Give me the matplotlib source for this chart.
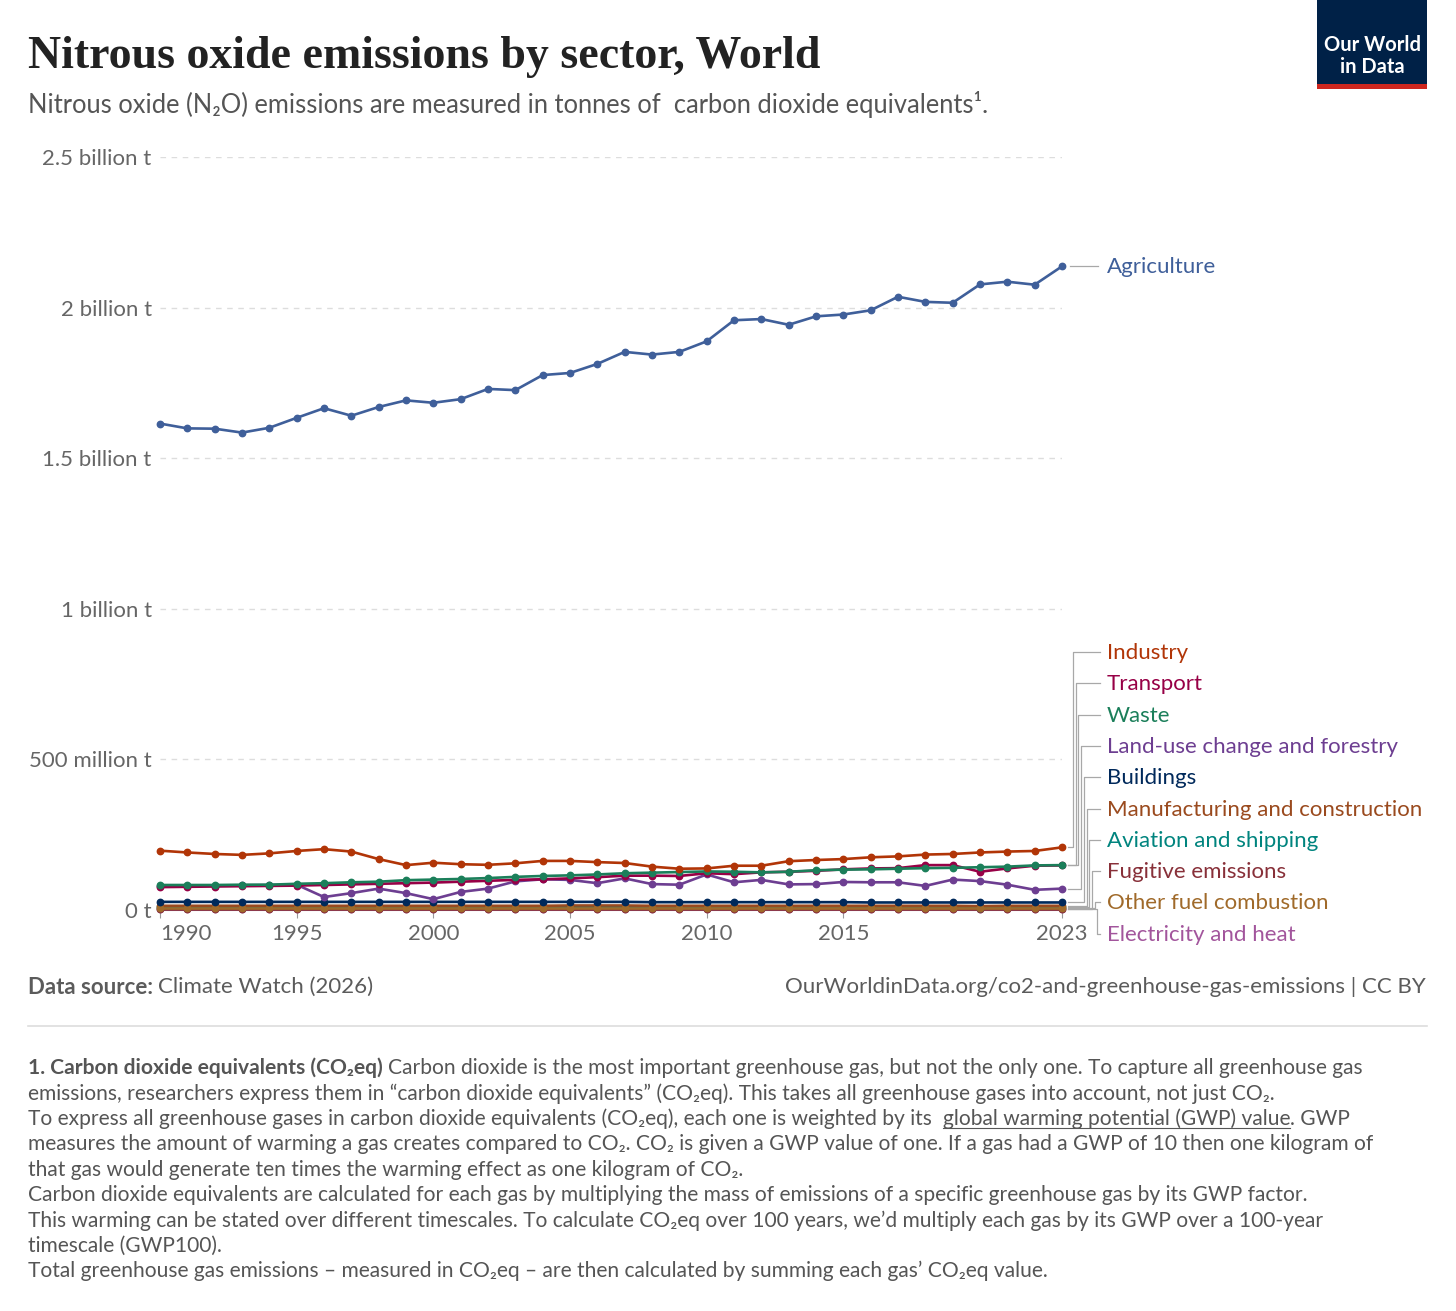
import matplotlib
matplotlib.use('Agg')
import matplotlib.pyplot as plt
from matplotlib.lines import Line2D
from matplotlib.patches import Rectangle

# ---------------- data (billion tonnes CO2eq) ----------------
years = list(range(1990, 2024))

agriculture = [1.615, 1.599, 1.598, 1.585, 1.601, 1.634, 1.666, 1.641, 1.670, 1.692,
               1.684, 1.696, 1.730, 1.726, 1.776, 1.783, 1.813, 1.853, 1.844, 1.853,
               1.888, 1.958, 1.962, 1.943, 1.971, 1.977, 1.991, 2.036, 2.019, 2.016,
               2.077, 2.086, 2.076, 2.137]
industry = [0.197, 0.191, 0.186, 0.183, 0.188, 0.196, 0.202, 0.194, 0.169, 0.149,
            0.157, 0.152, 0.150, 0.155, 0.163, 0.163, 0.159, 0.156, 0.144, 0.137,
            0.138, 0.147, 0.147, 0.162, 0.166, 0.169, 0.175, 0.178, 0.184, 0.186,
            0.191, 0.194, 0.196, 0.208]
transport = [0.076, 0.077, 0.078, 0.079, 0.080, 0.081, 0.083, 0.085, 0.087, 0.089,
             0.091, 0.094, 0.097, 0.100, 0.102, 0.105, 0.109, 0.114, 0.114, 0.113,
             0.122, 0.119, 0.125, 0.127, 0.130, 0.135, 0.138, 0.139, 0.149, 0.149,
             0.127, 0.138, 0.147, 0.148]
waste = [0.083, 0.083, 0.083, 0.084, 0.084, 0.087, 0.089, 0.092, 0.094, 0.099,
         0.101, 0.103, 0.106, 0.110, 0.113, 0.115, 0.118, 0.122, 0.124, 0.126,
         0.128, 0.127, 0.125, 0.127, 0.132, 0.134, 0.135, 0.137, 0.139, 0.140,
         0.142, 0.144, 0.148, 0.149]
land_use = [0.080, 0.080, 0.081, 0.082, 0.083, 0.084, 0.043, 0.056, 0.071, 0.056,
            0.036, 0.060, 0.071, 0.095, 0.102, 0.100, 0.089, 0.105, 0.086, 0.084,
            0.118, 0.092, 0.100, 0.085, 0.086, 0.093, 0.092, 0.092, 0.080, 0.101,
            0.096, 0.084, 0.067, 0.071]
buildings = [0.027, 0.027, 0.027, 0.027, 0.027, 0.027, 0.027, 0.027, 0.027, 0.027,
             0.027, 0.027, 0.027, 0.027, 0.027, 0.027, 0.027, 0.027, 0.026, 0.026,
             0.026, 0.026, 0.026, 0.026, 0.026, 0.026, 0.025, 0.025, 0.025, 0.025,
             0.025, 0.025, 0.025, 0.025]
manufacturing = [0.014, 0.014, 0.014, 0.014, 0.014, 0.014, 0.014, 0.014, 0.014, 0.014,
                 0.014, 0.014, 0.014, 0.014, 0.014, 0.015, 0.015, 0.015, 0.014, 0.014,
                 0.014, 0.014, 0.014, 0.014, 0.014, 0.014, 0.014, 0.014, 0.014, 0.014,
                 0.013, 0.014, 0.014, 0.014]
aviation = [0.009, 0.009, 0.009, 0.009, 0.009, 0.009, 0.009, 0.009, 0.009, 0.009,
            0.009, 0.009, 0.009, 0.009, 0.009, 0.009, 0.009, 0.009, 0.009, 0.009,
            0.009, 0.009, 0.009, 0.009, 0.009, 0.009, 0.009, 0.009, 0.009, 0.009,
            0.008, 0.009, 0.009, 0.009]
fugitive = [0.002, 0.002, 0.002, 0.002, 0.002, 0.002, 0.002, 0.002, 0.002, 0.002,
            0.002, 0.002, 0.002, 0.002, 0.002, 0.002, 0.002, 0.002, 0.002, 0.002,
            0.002, 0.002, 0.002, 0.002, 0.002, 0.002, 0.002, 0.002, 0.002, 0.002,
            0.002, 0.002, 0.002, 0.002]
other_fuel = [0.005, 0.005, 0.005, 0.005, 0.005, 0.005, 0.005, 0.005, 0.005, 0.005,
              0.005, 0.005, 0.005, 0.005, 0.005, 0.005, 0.005, 0.005, 0.005, 0.005,
              0.005, 0.005, 0.005, 0.005, 0.005, 0.005, 0.005, 0.005, 0.005, 0.005,
              0.005, 0.005, 0.005, 0.005]
electricity = [0.004, 0.004, 0.004, 0.004, 0.004, 0.004, 0.004, 0.004, 0.004, 0.004,
               0.004, 0.004, 0.004, 0.004, 0.004, 0.004, 0.004, 0.004, 0.004, 0.004,
               0.004, 0.004, 0.004, 0.004, 0.004, 0.004, 0.004, 0.004, 0.004, 0.004,
               0.004, 0.004, 0.004, 0.004]

sector_names = ["Agriculture", "Industry", "Transport", "Waste", "Land-use change and forestry",
                "Buildings", "Manufacturing and construction", "Aviation and shipping",
                "Fugitive emissions", "Other fuel combustion", "Electricity and heat"]
sector_values = [agriculture, industry, transport, waste, land_use, buildings,
                 manufacturing, aviation, fugitive, other_fuel, electricity]
sector_colors = ["#3F5F9A", "#B13507", "#970046", "#1B7F5A", "#6D3E91", "#00295B",
                 "#9A4A1E", "#00847E", "#883039", "#A06A2A", "#A2559C"]
# drawing order (bottom first)
draw_order = [10, 8, 7, 6, 9, 5, 4, 2, 3, 1, 0]

yticks = [0, 0.5, 1.0, 1.5, 2.0, 2.5]
ytick_labels = ["0 t", "500 million t", "1 billion t", "1.5 billion t", "2 billion t", "2.5 billion t"]
xticks = [1990, 1995, 2000, 2005, 2010, 2015, 2023]
xtick_labels = ["1990", "1995", "2000", "2005", "2010", "2015", "2023"]

# ---------------- figure ----------------
W, H = 1456, 1311
plt.rcParams['font.family'] = ['Lato', 'DejaVu Sans']
fig = plt.figure(figsize=(W / 100, H / 100), dpi=100)
fig.patch.set_facecolor('white')


def fx(px):
    return px / W


def fy(py):
    return 1 - py / H


AX_L, AX_R, AX_T, AX_B = 160, 1062, 157, 910
ax = fig.add_axes([fx(AX_L), fy(AX_B), (AX_R - AX_L) / W, (AX_B - AX_T) / H])
ax.set_xlim(1990, 2023)
ax.set_ylim(0, 2.5)
for s in ['top', 'right', 'left']:
    ax.spines[s].set_visible(False)
ax.spines['bottom'].set_color('#aaaaaa')
ax.spines['bottom'].set_linewidth(0.8)

ax.set_yticks(yticks)
ax.set_yticklabels(ytick_labels, fontsize=16, color='#666666')
ax.tick_params(axis='y', length=0, pad=6)
ax.grid(axis='y', color='#dddddd', linestyle=(0, (4, 4)), linewidth=1)
ax.set_axisbelow(True)

ax.set_xticks(xticks)
ax.set_xticklabels(xtick_labels, fontsize=16, color='#666666')
ax.tick_params(axis='x', length=6, width=0.8, color='#999999', pad=4)
ax.get_xticklabels()[0].set_horizontalalignment('left')

for z, i in enumerate(draw_order):
    ax.plot(years, sector_values[i], color=sector_colors[i], lw=1.9, marker='o', ms=4.6,
            clip_on=False, zorder=3 + z, solid_joinstyle='round')

# ---------------- line labels with connectors ----------------
PX_PER_YEAR = (AX_R - AX_L) / (2023 - 1990)
PX_PER_UNIT = (AX_B - AX_T) / 2.5


def xd(px):
    return 1990 + (px - AX_L) / PX_PER_YEAR


def yd(py):
    return (AX_B - py) / PX_PER_UNIT


conn_color = '#a8a8a8'
LAB_SHIFT = 1.0 / PX_PER_UNIT  # text-centre correction
# Agriculture label
ag_end = agriculture[-1]
ax.plot([xd(1070), xd(1098)], [ag_end, ag_end], color=conn_color, lw=0.9, clip_on=False)
ax.text(xd(1107), ag_end - LAB_SHIFT, sector_names[0], color=sector_colors[0], fontsize=16,
        va='center', ha='left', clip_on=False)

for k in range(1, len(sector_names)):
    end = sector_values[k][-1]
    lab_y = yd(652 + 31.3 * (k - 1))
    vx = 1073 + 2.7 * (k - 1)
    ax.plot([xd(1068), xd(vx), xd(vx), xd(1100)], [end, end, lab_y, lab_y],
            color=conn_color, lw=0.9, clip_on=False, zorder=2)
    ax.text(xd(1107), lab_y - LAB_SHIFT, sector_names[k], color=sector_colors[k], fontsize=16,
            va='center', ha='left', clip_on=False)

# ---------------- header ----------------
fig.text(fx(28), fy(68), "Nitrous oxide emissions by sector, World", fontsize=33,
         fontweight='bold', family=['Liberation Serif', 'DejaVu Serif'], color='#222222',
         va='baseline', ha='left')
fig.text(fx(28), fy(105), "Nitrous oxide (N\u2082O) emissions are measured in tonnes of  carbon dioxide equivalents\u00b9.",
         fontsize=18.4, color='#555555', va='center', ha='left')

# logo
fig.add_artist(Rectangle((fx(1317), fy(84)), (1427 - 1317) / W, 84 / H,
                         transform=fig.transFigure, facecolor='#002147', edgecolor='none'))
fig.add_artist(Rectangle((fx(1317), fy(89)), (1427 - 1317) / W, 5 / H,
                         transform=fig.transFigure, facecolor='#CE261E', edgecolor='none'))
fig.text(fx(1372), fy(45), "Our World", fontsize=14.5, fontweight='bold', color='white',
         ha='center', va='center')
fig.text(fx(1372), fy(67), "in Data", fontsize=14.5, fontweight='bold', color='white',
         ha='center', va='center')

# ---------------- footer ----------------
renderer = fig.canvas.get_renderer()


def segments(x_px, y_px, parts, size, color):
    x = x_px
    for txt, bold, ul in parts:
        t = fig.text(fx(x), fy(y_px), txt, fontsize=size, color=color,
                     fontweight='bold' if bold else 'normal', va='center', ha='left')
        bb = t.get_window_extent(renderer)
        if ul:
            uy = bb.y0 + 1.5
            fig.add_artist(Line2D([bb.x0 / W, bb.x1 / W], [uy / H, uy / H],
                                  transform=fig.transFigure, color=color, lw=0.8))
        x += bb.width


segments(28, 987, [("Data source: ", True, False), ("Climate Watch (2026)", False, False)],
         16, '#5b5b5b')
fig.text(fx(1426), fy(987), "OurWorldinData.org/co2-and-greenhouse-gas-emissions | CC BY",
         fontsize=16, color='#5b5b5b', ha='right', va='center')

fig.add_artist(Line2D([fx(28), fx(1427)], [fy(1026), fy(1026)], transform=fig.transFigure,
                      color='#dddddd', lw=1.2))

note_lines = [
    [("1. Carbon dioxide equivalents (CO\u2082eq) ", True, False),
     ("Carbon dioxide is the most important greenhouse gas, but not the only one. To capture all greenhouse gas", False, False)],
    [("emissions, researchers express them in \u201ccarbon dioxide equivalents\u201d (CO\u2082eq). This takes all greenhouse gases into account, not just CO\u2082.", False, False)],
    [("To express all greenhouse gases in carbon dioxide equivalents (CO\u2082eq), each one is weighted by its  ", False, False),
     ("global warming potential (GWP) value", False, True),
     (". GWP", False, False)],
    [("measures the amount of warming a gas creates compared to CO\u2082. CO\u2082 is given a GWP value of one. If a gas had a GWP of 10 then one kilogram of", False, False)],
    [("that gas would generate ten times the warming effect as one kilogram of CO\u2082.", False, False)],
    [("Carbon dioxide equivalents are calculated for each gas by multiplying the mass of emissions of a specific greenhouse gas by its GWP factor.", False, False)],
    [("This warming can be stated over different timescales. To calculate CO\u2082eq over 100 years, we\u2019d multiply each gas by its GWP over a 100-year", False, False)],
    [("timescale (GWP100).", False, False)],
    [("Total greenhouse gas emissions \u2013 measured in CO\u2082eq \u2013 are then calculated by summing each gas\u2019 CO\u2082eq value.", False, False)],
]
for j, parts in enumerate(note_lines):
    segments(28, 1068 + 25.4 * j, parts, 15.1, '#555555')

fig.savefig('out.png', dpi=100, facecolor='white')
